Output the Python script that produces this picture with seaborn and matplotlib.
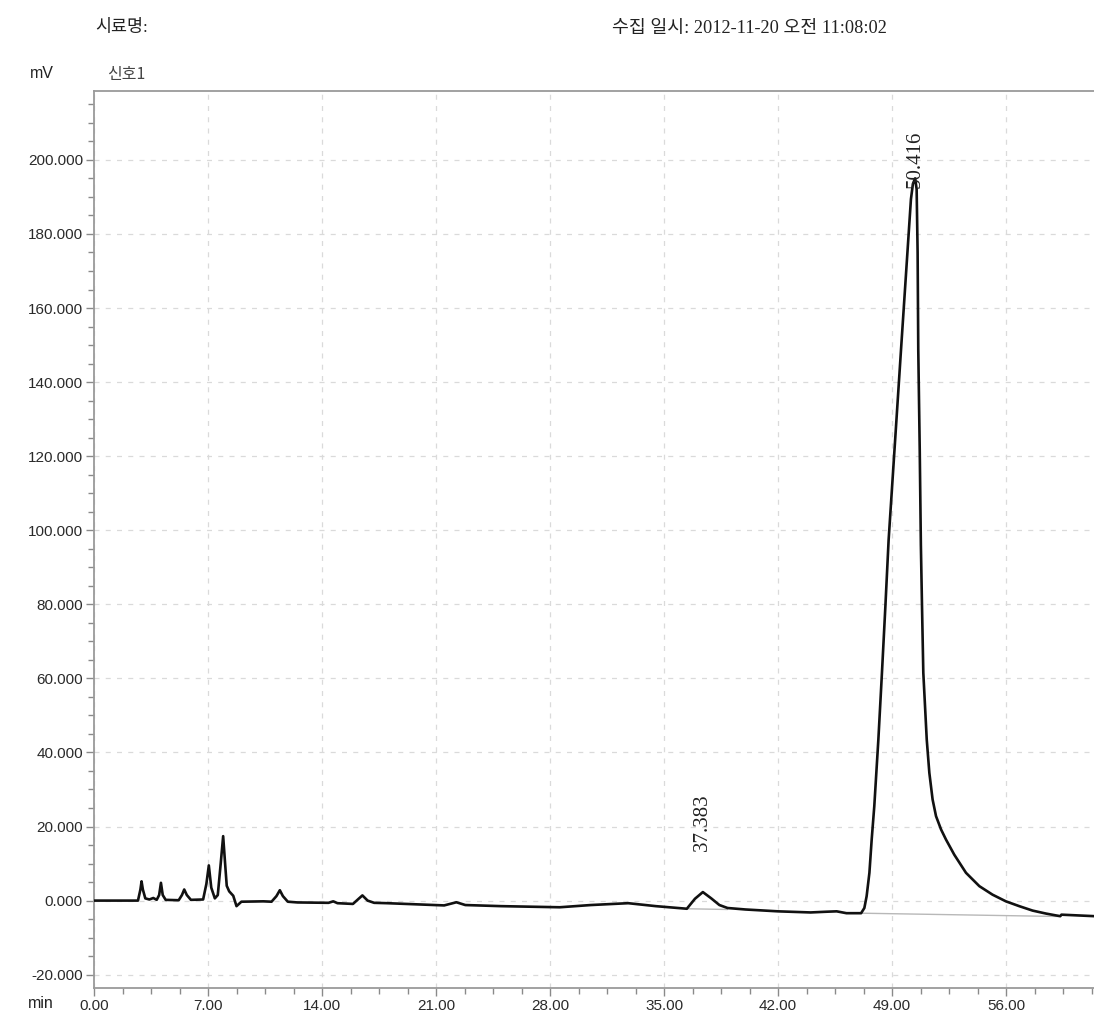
import matplotlib
matplotlib.use("Agg")
import matplotlib.pyplot as plt
import matplotlib.ticker as mticker
import numpy as np
import pandas as pd
import seaborn as sns

# Detector trace (retention time in minutes, signal in mV)
time_min = [
    0.00, 2.70, 2.85, 2.92, 3.00, 3.15, 3.40, 3.64, 3.85, 4.00, 4.11, 4.22, 4.40,
    5.20, 5.40, 5.54, 5.70, 5.95, 6.70, 6.90, 7.05, 7.20, 7.42, 7.60, 7.78, 7.93,
    8.05, 8.15, 8.30, 8.55, 8.75, 9.05, 10.40, 10.90, 11.20, 11.41, 11.60, 11.90,
    12.50, 14.40, 14.69, 14.95, 15.90, 16.20, 16.48, 16.80, 17.20, 18.00, 21.50,
    22.25, 22.80, 25.00, 28.60, 30.50, 32.80, 34.50, 36.40, 36.90, 37.383, 37.90,
    38.40, 38.90, 40.00, 42.00, 44.00, 45.00, 45.60, 46.20, 47.10, 47.30, 47.44,
    47.61, 47.75, 47.91, 48.16, 48.38, 48.59, 48.79, 49.55, 50.16, 50.28, 50.416,
    50.51, 50.57, 50.61, 50.70, 50.77, 50.84, 50.92, 51.13, 51.29, 51.49, 51.70,
    52.01, 52.31, 52.82, 53.54, 54.36, 55.17, 55.99, 56.81, 57.63, 58.45, 59.06,
    59.33, 59.40, 61.40,
]
signal_mv = [
    0.0, 0.0, 3.0, 5.2, 3.0, 0.6, 0.3, 0.7, 0.2, 1.5, 4.8, 1.5, 0.2,
    0.1, 1.5, 3.0, 1.5, 0.2, 0.3, 4.5, 9.5, 3.5, 0.6, 1.5, 10.0, 17.4,
    10.0, 4.0, 2.5, 1.3, -1.5, -0.3, -0.2, -0.3, 1.2, 2.8, 1.2, -0.3,
    -0.5, -0.6, -0.2, -0.7, -0.9, 0.3, 1.4, 0.0, -0.6, -0.7, -1.3,
    -0.45, -1.2, -1.5, -1.8, -1.2, -0.7, -1.5, -2.2, 0.5, 2.3, 0.6,
    -1.2, -2.0, -2.4, -2.9, -3.2, -3.0, -2.9, -3.4, -3.4, -2.0, 1.2,
    7.5, 16.5, 25.5, 43.5, 61.5, 79.4, 97.4, 148.7, 189.4, 193.5, 195.0,
    192.1, 175.0, 148.7, 121.7, 96.0, 79.4, 61.5, 43.5, 34.5, 27.3, 22.8,
    19.2, 16.5, 12.4, 7.5, 3.9, 1.6, -0.2, -1.5, -2.7, -3.5, -4.0,
    -4.2, -3.8, -4.2,
]

# Integration baselines drawn under the two labelled peaks
baseline_a_t = [36.40, 38.90]
baseline_a_v = [-2.2, -2.4]
baseline_b_t = [47.10, 59.35]
baseline_b_v = [-3.4, -4.3]

# Labelled peaks (retention time, apex height)
peak_times = [37.383, 50.416]
peak_heights = [2.3, 195.0]
peak_label_offsets = [11.2, -2.6]

x_major = np.arange(0, 61, 7.0)
y_major = np.arange(-20, 201, 20)

W, H = 1094, 1021
sns.set_theme(style="white")
plt.rcParams["font.family"] = ["Liberation Sans", "Noto Sans CJK KR", "DejaVu Sans"]

fig = plt.figure(figsize=(W / 100, H / 100), dpi=100)
ax = fig.add_axes([94 / W, 1 - 988 / H, 1 - 94 / W, (988 - 91) / H])

trace = pd.DataFrame({"t": time_min, "mv": signal_mv})

ax.plot(baseline_a_t, baseline_a_v, color="#b8b8b8", lw=1.0, zorder=2)
ax.plot(baseline_b_t, baseline_b_v, color="#b8b8b8", lw=1.0, zorder=2)
sns.lineplot(data=trace, x="t", y="mv", color="#111111", lw=1.9,
             sort=False, estimator=None, ax=ax, zorder=3)

ax.set_xlim(0, 61.4)
ax.set_ylim(-23.6, 218.6)
ax.set_xlabel("")
ax.set_ylabel("")

ax.xaxis.set_major_locator(mticker.FixedLocator(x_major))
ax.xaxis.set_minor_locator(mticker.MultipleLocator(1.75))
ax.yaxis.set_major_locator(mticker.FixedLocator(y_major))
ax.yaxis.set_minor_locator(mticker.MultipleLocator(5))
ax.xaxis.set_major_formatter(mticker.FormatStrFormatter("%.2f"))
ax.yaxis.set_major_formatter(mticker.FormatStrFormatter("%.3f"))

ax.tick_params(axis="both", which="major", direction="out", length=6, width=1,
               color="#8a8a8a", labelsize=11, labelcolor="#2a2a2a", pad=2,
               bottom=True, left=True)
ax.tick_params(axis="both", which="minor", direction="out", length=4, width=1,
               color="#8a8a8a", bottom=True, left=True)

ax.grid(True, which="major", color="#dadada", lw=0.9, ls=(0, (4, 5)))

for side in ["left", "top", "bottom"]:
    ax.spines[side].set_visible(True)
    ax.spines[side].set_color("#9a9a9a")
    ax.spines[side].set_linewidth(1.3)
ax.spines["right"].set_visible(False)

for t, h, off in zip(peak_times, peak_heights, peak_label_offsets):
    ax.text(t, h + off, f"{t:.3f}", rotation=90, ha="center", va="bottom",
            fontsize=15, color="#222222", family=["Liberation Serif"], zorder=4)

serif_kr = ["Liberation Serif", "Noto Sans CJK KR"]
fig.text(95 / W, 1 - 28 / H, "시료명:", ha="left", va="center",
         fontsize=12.5, color="#222222", family=serif_kr)
fig.text(612 / W, 1 - 28 / H, "수집 일시: 2012-11-20 오전 11:08:02", ha="left",
         va="center", fontsize=13.2, color="#222222", family=serif_kr)
fig.text(30 / W, 1 - 74 / H, "mV", ha="left", va="center", fontsize=11.5,
         color="#222222")
fig.text(107 / W, 1 - 74 / H, "신호1", ha="left", va="center", fontsize=11.5,
         color="#444444", family=["Noto Sans CJK KR", "Liberation Sans"])
fig.text(28 / W, 1 - 1003 / H, "min", ha="left", va="center", fontsize=11.5,
         color="#222222")

fig.savefig("out.png", dpi=100, facecolor="white")
